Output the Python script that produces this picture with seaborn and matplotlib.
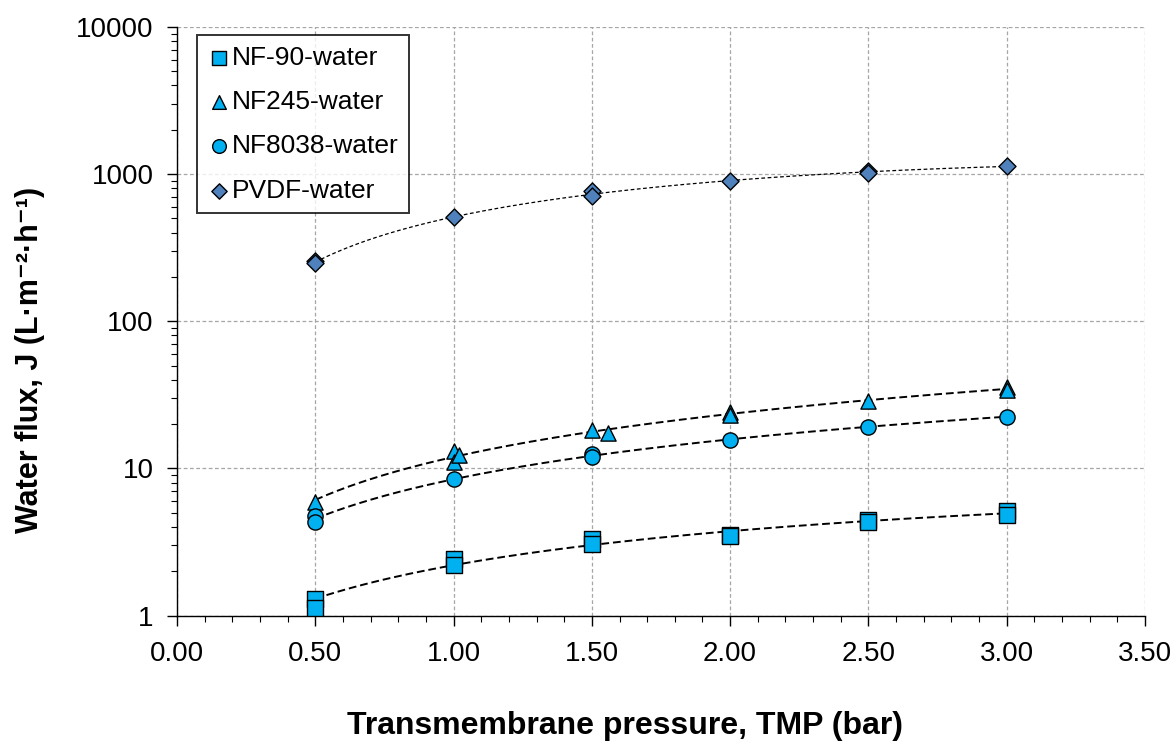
import numpy as np
import pandas as pd
import matplotlib
matplotlib.use("Agg")
import matplotlib.pyplot as plt
import matplotlib.ticker as mticker
import seaborn as sns

# ---- data ----
nf90_x = [0.5, 0.5, 1.0, 1.0, 1.5, 1.5, 2.0, 2.0, 2.5, 2.5, 3.0, 3.0]
nf90_y = [1.3, 1.12, 2.42, 2.2, 3.3, 3.05, 3.55, 3.45, 4.45, 4.35, 5.15, 4.85]

nf245_x = [0.5, 1.0, 1.0, 1.02, 1.5, 1.56, 2.0, 2.0, 2.5, 3.0, 3.0]
nf245_y = [5.9, 13.1, 11.1, 12.4, 18.2, 17.4, 24.2, 23.2, 28.7, 35.5, 34.0]

nf8038_x = [0.5, 0.5, 1.0, 1.5, 1.5, 2.0, 2.5, 3.0]
nf8038_y = [4.75, 4.3, 8.5, 12.5, 11.9, 15.7, 19.1, 22.5]

pvdf_x = [0.5, 0.5, 1.0, 1.5, 1.5, 2.0, 2.5, 2.5, 3.0]
pvdf_y = [255, 248, 507, 770, 705, 890, 1050, 1020, 1130]

labels = ["NF-90-water", "NF245-water", "NF8038-water", "PVDF-water"]

x_ticks = [0.0, 0.5, 1.0, 1.5, 2.0, 2.5, 3.0, 3.5]
y_ticks = [1, 10, 100, 1000, 10000]

series = [
    (nf90_x, nf90_y, labels[0], "s", "#00B0F0", (0, (4, 2)), 1.4),
    (nf245_x, nf245_y, labels[1], "^", "#00B0F0", (0, (4, 2)), 1.4),
    (nf8038_x, nf8038_y, labels[2], "o", "#00B0F0", (0, (4, 2)), 1.4),
    (pvdf_x, pvdf_y, labels[3], "D", "#4F81BD", (0, (3, 2)), 0.9),
]

sns.set_theme(style="white")
plt.rcParams["font.family"] = ["Liberation Sans", "DejaVu Sans"]
plt.rcParams["text.color"] = "black"
plt.rcParams["axes.labelcolor"] = "black"
plt.rcParams["xtick.color"] = "black"
plt.rcParams["ytick.color"] = "black"

fig = plt.figure(figsize=(11.73, 7.47), dpi=100)
ax = fig.add_axes([0.151, 0.176, 0.825, 0.788])

for xs, ys, lab, mk, col, ls, lw in series:
    df = pd.DataFrame({"x": xs, "y": ys})
    # polynomial (order 2) trend line as in the original spreadsheet chart
    coef = np.polyfit(df["x"], df["y"], 2)
    xf = np.linspace(min(xs), max(xs), 200)
    fit = pd.DataFrame({"x": xf, "y": np.polyval(coef, xf)})
    sns.lineplot(data=fit, x="x", y="y", ax=ax, color="black", lw=lw,
                 linestyle=ls, legend=False, zorder=2)
    sns.scatterplot(data=df, x="x", y="y", ax=ax, marker=mk, color=col,
                    edgecolor="black", linewidth=1.0,
                    s=120 if mk != "D" else 75, label=lab, zorder=3)

ax.set_yscale("log")
ax.set_xlim(0, 3.5)
ax.set_ylim(1, 10000)
ax.set_xticks(x_ticks)
ax.set_xticklabels([f"{v:.2f}" for v in x_ticks])
ax.xaxis.set_minor_locator(mticker.MultipleLocator(0.1))
ax.set_yticks(y_ticks)
ax.set_yticklabels([str(v) for v in y_ticks])
ax.yaxis.set_minor_locator(mticker.LogLocator(base=10, subs=np.arange(2, 10)))
ax.yaxis.set_minor_formatter(mticker.NullFormatter())

ax.grid(True, which="major", color="#A6A6A6", linestyle=(0, (3, 2)), linewidth=0.9)
ax.set_axisbelow(True)
for s in ["top", "right"]:
    ax.spines[s].set_visible(False)
for s in ["left", "bottom"]:
    ax.spines[s].set_color("black")
    ax.spines[s].set_linewidth(1.0)

ax.tick_params(axis="both", which="major", direction="out", length=7,
               width=1, color="black", labelsize=20, bottom=True, left=True)
ax.tick_params(axis="both", which="minor", direction="out", length=4,
               width=0.8, color="black", bottom=True, left=True)
ax.tick_params(axis="x", pad=11)
ax.tick_params(axis="y", pad=10)

ax.set_xlabel("Transmembrane pressure, TMP (bar)", fontsize=23,
              fontweight="bold")
ax.xaxis.set_label_coords(0.463, -0.163)
ax.set_ylabel("Water flux, J (L·m⁻²·h⁻¹)", fontsize=22, fontweight="bold")
ax.yaxis.set_label_coords(-0.137, 0.434)

leg = ax.legend(loc="upper left", bbox_to_anchor=(0.021, 0.986), fontsize=19,
                frameon=True, fancybox=False, edgecolor="black",
                labelspacing=0.77, handletextpad=0.1, handlelength=0.8,
                borderpad=0.4, borderaxespad=0, markerscale=0.9)
leg.get_frame().set_linewidth(1.4)

fig.savefig("out.png", dpi=100)
